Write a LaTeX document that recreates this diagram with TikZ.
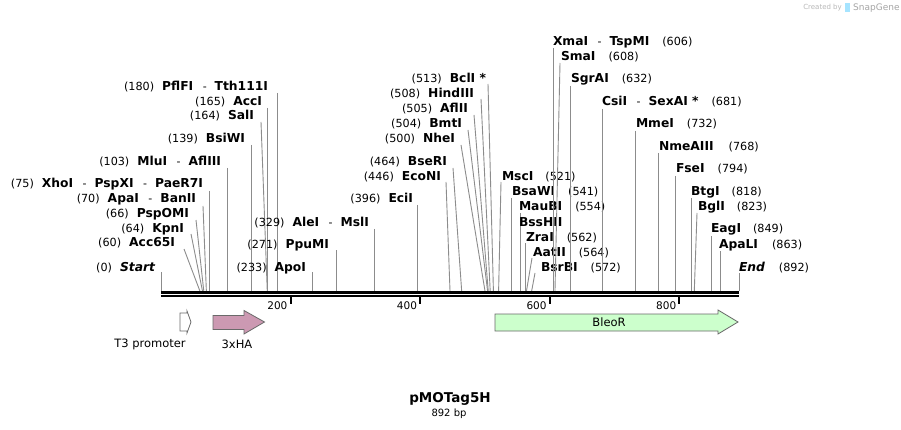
\documentclass[tikz,border=0pt]{standalone}
\usepackage{fontspec}
\setmainfont{DejaVu Sans}
\usetikzlibrary{calc}
\definecolor{conncol}{HTML}{8C8C8C}
\definecolor{hafill}{HTML}{CC99B2}
\definecolor{bleofill}{HTML}{CCFFCC}
\definecolor{featline}{HTML}{6A6A6A}
\newcommand\nm[1]{{\fontsize{12.3}{13}\selectfont\bfseries #1}}
\newcommand\nmi[1]{{\fontsize{12.3}{13}\selectfont\bfseries\itshape #1}}
\newcommand\nb[1]{{\fontsize{11.2}{13}\selectfont (#1)}}
\newcommand\dsh{{\fontsize{11}{13}\selectfont\hspace{9.5pt}-\hspace{8pt}}}
% left label, slanted connector: id, xend, ycenter, text, topx, topy, pos
\newcommand\lsite[7]{%
  \node[lbl,anchor=base east] (#1) at (#2,#3+4) {#4};
  \pgfmathsetmacro\px{161+#7*0.64798}
  \coordinate (#1t) at (#5,#6);
  \coordinate (#1b) at (\px,291);
  \draw[cn] (#1t) -- (#1b);}
% left label, vertical connector: id, xend, ycenter, text, topy, pos
\newcommand\lsitev[6]{%
  \node[lbl,anchor=base east] (#1) at (#2,#3+4) {#4};
  \pgfmathsetmacro\px{161+#6*0.64798}
  \coordinate (#1t) at (\px,#5);
  \coordinate (#1b) at (\px,291);
  \draw[cn] (#1t) -- (#1b);}
\newcommand\rsite[7]{%
  \node[lbl,anchor=base west] (#1) at (#2,#3+4) {#4};
  \pgfmathsetmacro\px{161+#7*0.64798}
  \coordinate (#1t) at (#5,#6);
  \coordinate (#1b) at (\px,291);
  \draw[cn] (#1t) -- (#1b);}
\newcommand\rsitev[6]{%
  \node[lbl,anchor=base west] (#1) at (#2,#3+4) {#4};
  \pgfmathsetmacro\px{161+#6*0.64798}
  \coordinate (#1t) at (\px,#5);
  \coordinate (#1b) at (\px,291);
  \draw[cn] (#1t) -- (#1b);}
\tikzset{
  lbl/.style={inner sep=0pt,outer sep=0pt},
  cn/.style={draw=conncol,line width=0.9pt},
  feat/.style={draw=featline,line width=0.8pt},
  ticklab/.style={inner sep=0pt,anchor=base east,font=\fontsize{10.5}{12}\selectfont},
  featlab/.style={inner sep=0pt,font=\fontsize{11.5}{13}\selectfont}
}
\begin{document}
\begin{tikzpicture}[x=1pt,y=-1pt]
\useasboundingbox (0,0) rectangle (901,430);
\fill[white] (0,0) rectangle (901,430);

% backbone
\coordinate (bbL1) at (161,292.5); \coordinate (bbR1) at (739,292.5);
\coordinate (bbL2) at (161,296); \coordinate (bbR2) at (739,296);

% ---- left-side labels
\lsite{Start}{155}{267}{\nb{0}\hspace{8pt}\nmi{Start}}{161}{272}{0}
\lsite{Acc}{175}{243}{\nb{60}\hspace{8pt}\nm{Acc65I}}{184}{249}{60}
\lsite{Kpn}{184}{229}{\nb{64}\hspace{8pt}\nm{KpnI}}{191}{234}{64}
\lsite{PspO}{189}{214}{\nb{66}\hspace{8pt}\nm{PspOMI}}{196}{220}{66}
\lsite{Apa}{196}{199}{\nb{70}\hspace{8pt}\nm{ApaI}\dsh\nm{BanII}}{203}{206}{70}
\lsitev{Xho}{203}{184}{\nb{75}\hspace{8pt}\nm{XhoI}\dsh\nm{PspXI}\dsh\nm{PaeR7I}}{191}{75}
\lsitev{Mlu}{221}{162}{\nb{103}\hspace{8pt}\nm{MluI}\dsh\nm{AflIII}}{168}{103}
\lsitev{BsiW}{245}{139}{\nb{139}\hspace{8pt}\nm{BsiWI}}{145}{139}
\lsite{Sal}{254}{116}{\nb{164}\hspace{8pt}\nm{SalI}}{261}{122}{164}
\lsitev{AccI}{262}{102}{\nb{165}\hspace{8pt}\nm{AccI}}{108}{165}
\lsitev{Pfl}{268}{87}{\nb{180}\hspace{8pt}\nm{PflFI}\dsh\nm{Tth111I}}{93}{180}
\lsitev{Apo}{306}{267}{\nb{233}\hspace{8pt}\nm{ApoI}}{272}{233}
\lsitev{Ppu}{329}{244}{\nb{271}\hspace{8pt}\nm{PpuMI}}{250}{271}
\lsitev{Ale}{369}{222}{\nb{329}\hspace{8pt}\nm{AleI}\dsh\nm{MslI}}{229}{329}
\lsitev{Eci}{413}{199}{\nb{396}\hspace{8pt}\nm{EciI}}{205}{396}
\lsite{EcoN}{441}{177}{\nb{446}\hspace{8pt}\nm{EcoNI}}{446}{182}{446}
\lsite{BseR}{447}{162}{\nb{464}\hspace{8pt}\nm{BseRI}}{453}{168}{464}
\lsite{Nhe}{455}{139}{\nb{500}\hspace{8pt}\nm{NheI}}{461}{145}{500}
\lsite{Bmt}{462}{124}{\nb{504}\hspace{8pt}\nm{BmtI}}{468}{130}{504}
\lsite{AflII}{468}{109}{\nb{505}\hspace{8pt}\nm{AflII}}{474}{115}{505}
\lsite{Hind}{474}{94}{\nb{508}\hspace{8pt}\nm{HindIII}}{481}{99}{508}
\lsite{Bcl}{486}{79}{\nb{513}\hspace{8pt}\nm{BclI *}}{488}{84}{513}

% ---- right-side labels
\rsite{Msc}{502}{177}{\nm{MscI}\hspace{12pt}\nb{521}}{501}{182}{521}
\rsitev{BsaW}{512}{192}{\nm{BsaWI}\hspace{13pt}\nb{541}}{198}{541}
\rsitev{MauB}{519}{207}{\nm{MauBI}\hspace{13pt}\nb{554}}{213}{554}
\node[lbl,anchor=base west] (BssH) at (519,226) {\nm{BssHII}};
\rsitev{Zra}{526}{237}{\nm{ZraI}\hspace{13pt}\nb{562}}{243}{562}
\rsite{Aat}{533}{252}{\nm{AatII}\hspace{13pt}\nb{564}}{532}{258}{564}
\rsite{BsrB}{541}{267}{\nm{BsrBI}\hspace{13pt}\nb{572}}{535}{273}{572}
\rsitev{Xma}{553}{42}{\nm{XmaI}\dsh\nm{TspMI}\hspace{13pt}\nb{606}}{48}{606}
\rsite{Sma}{561}{57}{\nm{SmaI}\hspace{13pt}\nb{608}}{560}{63}{608}
\rsitev{SgrA}{571}{79}{\nm{SgrAI}\hspace{13pt}\nb{632}}{86}{632}
\rsitev{Csi}{602}{102}{\nm{CsiI}\dsh\nm{SexAI *}\hspace{13pt}\nb{681}}{109}{681}
\rsitev{Mme}{636}{124}{\nm{MmeI}\hspace{13pt}\nb{732}}{131}{732}
\rsitev{NmeA}{659}{147}{\nm{NmeAIII}\hspace{15pt}\nb{768}}{153}{768}
\rsitev{Fse}{676}{169}{\nm{FseI}\hspace{13pt}\nb{794}}{176}{794}
\rsitev{Btg}{691}{192}{\nm{BtgI}\hspace{12pt}\nb{818}}{198}{818}
\rsite{Bgl}{698}{207}{\nm{BglI}\hspace{12pt}\nb{823}}{697}{213}{823}
\rsitev{Eag}{711}{229}{\nm{EagI}\hspace{12pt}\nb{849}}{236}{849}
\rsitev{ApaL}{719}{244}{\nm{ApaLI}\hspace{14pt}\nb{863}}{251}{863}
\rsitev{End}{739}{267}{\nmi{End}\hspace{14pt}\nb{892}}{273}{892}

% backbone drawn over connector ends
\draw[line width=3pt] (bbL1) -- (bbR1);
\draw[line width=2.4pt] (bbL2) -- (bbR2);

% ticks
\foreach \t in {200,400,600,800}{
  \pgfmathsetmacro\tx{161+\t*0.64798}
  \coordinate (tk\t a) at (\tx,297);
  \coordinate (tk\t b) at (\tx,304);
  \draw[line width=1.8pt] (tk\t a) -- (tk\t b);
  \node[ticklab] (tl\t) at (\tx-3,309) {\t};
}

% features
\draw[feat,fill=white] (180,313) -- (187,313) -- (187,311) -- (191,322) -- (187,333) -- (187,331) -- (180,331) -- cycle;
\node[featlab] (T3) at (150,344) {T3 promoter};
\draw[feat,fill=hafill] (213,315.5) -- (244,315.5) -- (244,310.5) -- (264.5,322) -- (244,334) -- (244,329.5) -- (213,329.5) -- cycle;
\node[featlab] (HA) at (237,344) {3xHA};
\draw[feat,fill=bleofill] (495,314) -- (718,314) -- (718,310) -- (738,322) -- (718,334) -- (718,331) -- (495,331) -- cycle;
\node[featlab] (Bleo) at (609,322) {BleoR};

% title
\node[inner sep=0pt,font=\fontsize{13.5}{15}\selectfont\bfseries] (title) at (450,399) {pMOTag5H};
\node[inner sep=0pt,font=\fontsize{10}{12}\selectfont] (len) at (449,414) {892 bp};

% watermark
\node[inner sep=0pt,anchor=base east,text=black!28,font=\fontsize{7}{8}\selectfont] (cby) at (842,10) {Created by};
\fill[blue!30!cyan!35] (845,3) rectangle (850,12);
\node[inner sep=0pt,anchor=base west,text=black!35,font=\fontsize{9}{10}\selectfont] (sg) at (853,11) {SnapGene};
\end{tikzpicture}
\end{document}
